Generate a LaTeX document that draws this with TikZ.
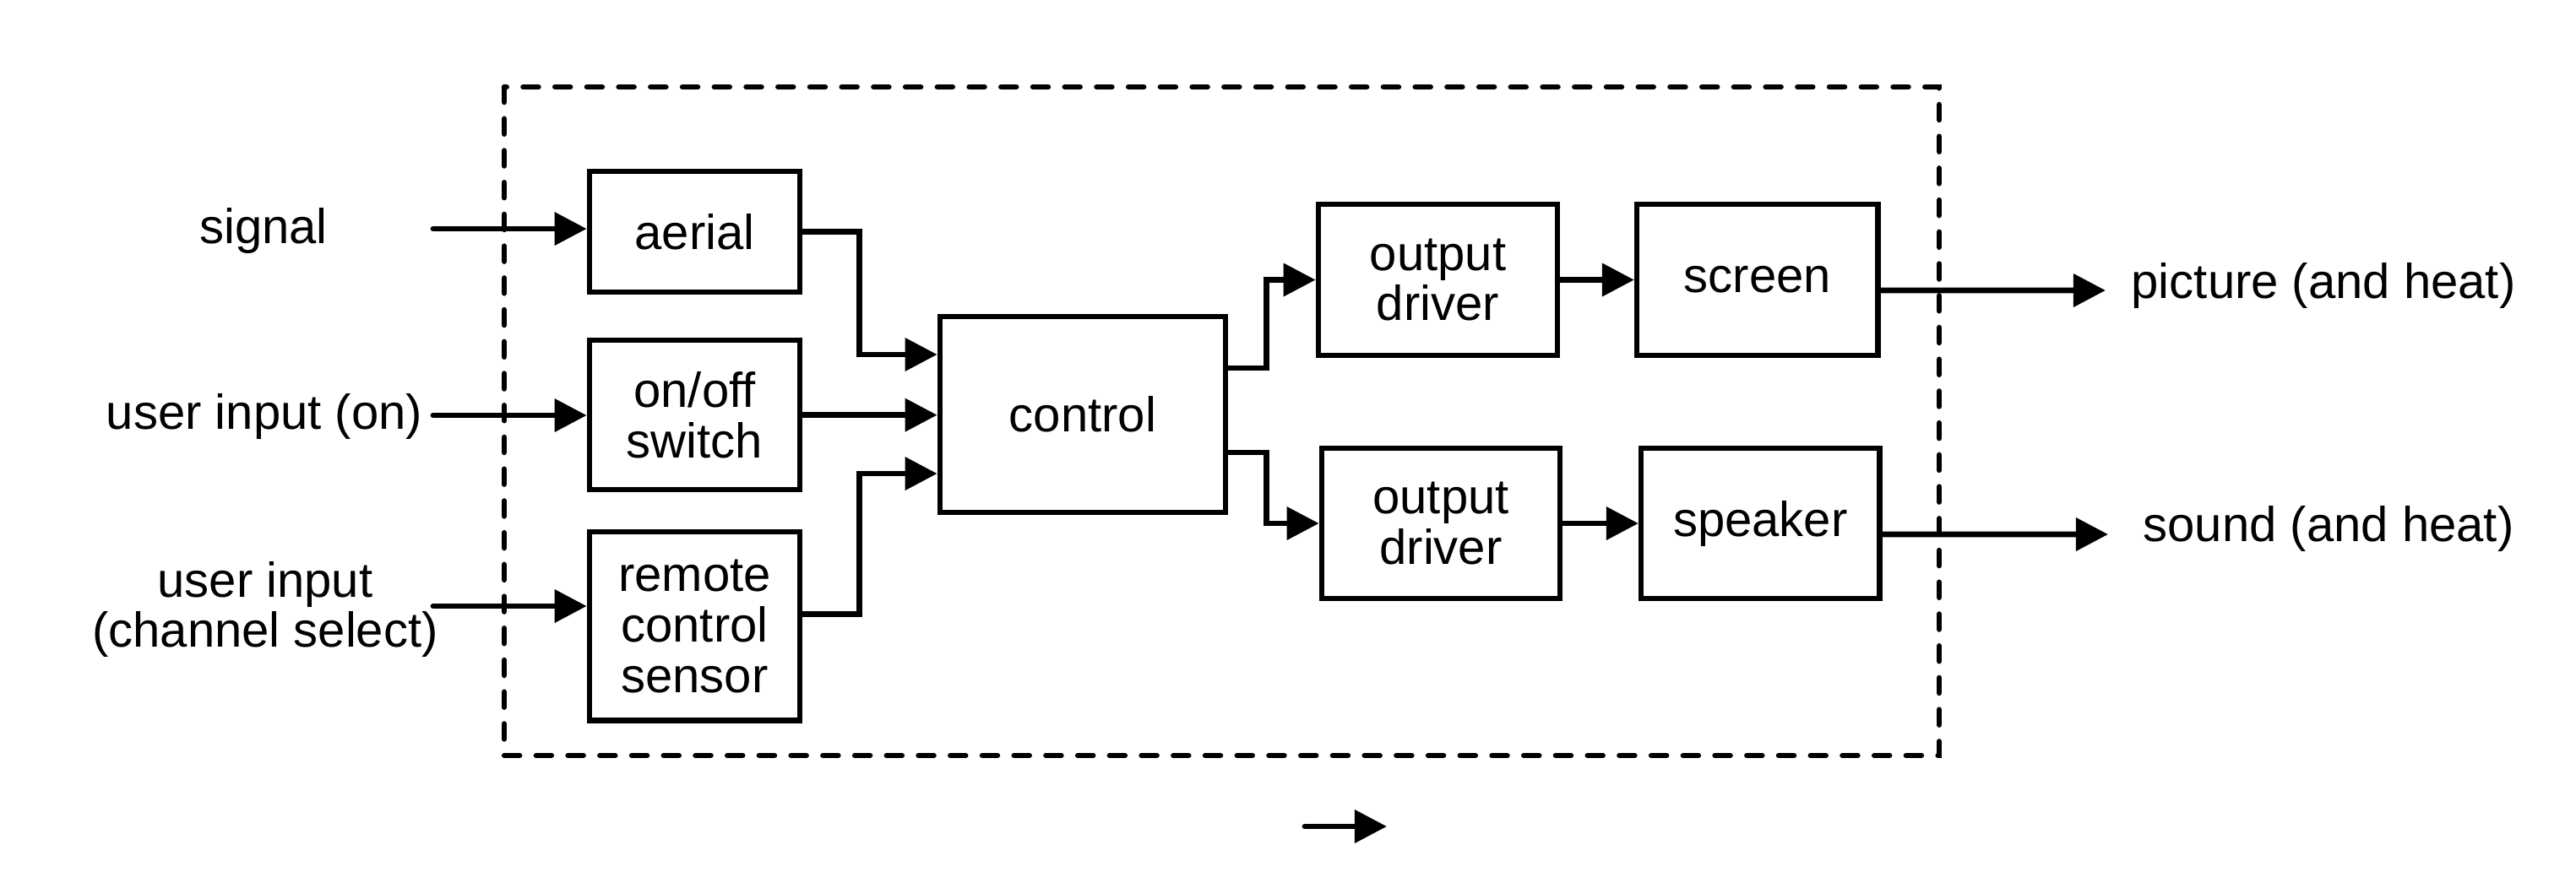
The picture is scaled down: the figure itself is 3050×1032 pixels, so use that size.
\documentclass[tikz,border=0pt]{standalone}
\usepackage{fontspec}
\setmainfont{Liberation Sans}
\usetikzlibrary{arrows.meta,backgrounds,positioning}
\definecolor{ink}{HTML}{000000}
\tikzset{
  block card/.style={
    draw=ink,
    fill=white,
    line width=1.85pt,
    align=center,
    inner sep=0pt,
    text=ink
  },
  io label/.style={
    align=center,
    inner sep=0pt,
    text=ink
  },
  flow edge/.style={
    -{Triangle[length=0.38cm,width=0.38cm]},
    draw=ink,
    line cap=round,
    line width=1.95pt
  },
  boundary line/.style={
    draw=ink,
    line width=1.85pt,
    line cap=round,
    dash pattern=on 0.18cm off 0.197cm
  }
}
\begin{document}
\begin{tikzpicture}[x=0.01cm,y=-0.01cm,font=\fontsize{16.5}{17}\selectfont]
  \useasboundingbox (0,0) rectangle (3050,1032);

  % system boundary
  \draw[boundary line] (597,103) rectangle (2296,895);

  % input side
  \node[block card,minimum width=2.49cm,minimum height=1.43cm] (aerial) at (822.5,274.5) {aerial};
  \node[block card,minimum width=2.49cm,minimum height=1.77cm,below=0.505cm of aerial] (switch) {on/off\\switch};
  \node[block card,minimum width=2.49cm,minimum height=2.23cm,below=0.435cm of switch] (sensor) {remote\\control\\sensor};
  \node[block card,minimum width=3.38cm,minimum height=2.32cm] (control) at (1282,491) {control};

  % output side
  \node[block card,minimum width=2.83cm,minimum height=1.79cm] (driver-top) at (1702.5,331.5) {output\\driver};
  \node[block card,minimum width=2.85cm,minimum height=1.79cm,right=0.875cm of driver-top] (screen) {screen};
  \node[block card,minimum width=2.82cm,minimum height=1.78cm] (driver-bottom) at (1706,620) {output\\driver};
  \node[block card,minimum width=2.82cm,minimum height=1.78cm,right=0.895cm of driver-bottom] (speaker) {speaker};

  % labels
  \node[io label] (signal) at (312,273) {signal};
  \node[io label] (user-on) at (313,493) {user input (on)};
  \node[io label] (user-channel) at (314,722) {user input\\(channel select)};
  \node[io label,anchor=west] (picture) at (2523,338) {picture (and heat)};
  \node[io label,anchor=west] (sound) at (2537,626) {sound (and heat)};

  \coordinate (signal-in) at (513,271);
  \coordinate (user-on-in) at (513,492);
  \coordinate (user-channel-in) at (513,718);
  \coordinate (picture-out) at (2493,344);
  \coordinate (sound-out) at (2496,633);
  \coordinate (legend-tail) at (1545,979);
  \coordinate (legend-head) at (1642,979);

  \draw[flow edge] (signal-in) -- (signal-in -| aerial.west);
  \draw[flow edge] (user-on-in) -- (user-on-in -| switch.west);
  \draw[flow edge] (user-channel-in) -- (user-channel-in -| sensor.west);

  \draw[flow edge] (aerial.east) -- ++(67,0) |- ([yshift=0.71cm]control.west);
  \draw[flow edge] (switch.east) -- (switch.east -| control.west);
  \draw[flow edge] ([yshift=0.145cm]sensor.east) -- ++(67,0) |- ([yshift=-0.7cm]control.west);

  \draw[flow edge] ([yshift=0.55cm]control.east) -- ++(45,0) |- (driver-top.west);
  \draw[flow edge] ([yshift=-0.45cm]control.east) -- ++(45,0) |- (driver-bottom.west);
  \draw[flow edge] (driver-top.east) -- (screen.west);
  \draw[flow edge] (driver-bottom.east) -- (speaker.west);

  \draw[flow edge] ([yshift=-0.125cm]screen.east) -- (picture-out);
  \draw[flow edge] ([yshift=-0.13cm]speaker.east) -- (sound-out);

  \draw[flow edge] (legend-tail) -- (legend-head);
\end{tikzpicture}
\end{document}
